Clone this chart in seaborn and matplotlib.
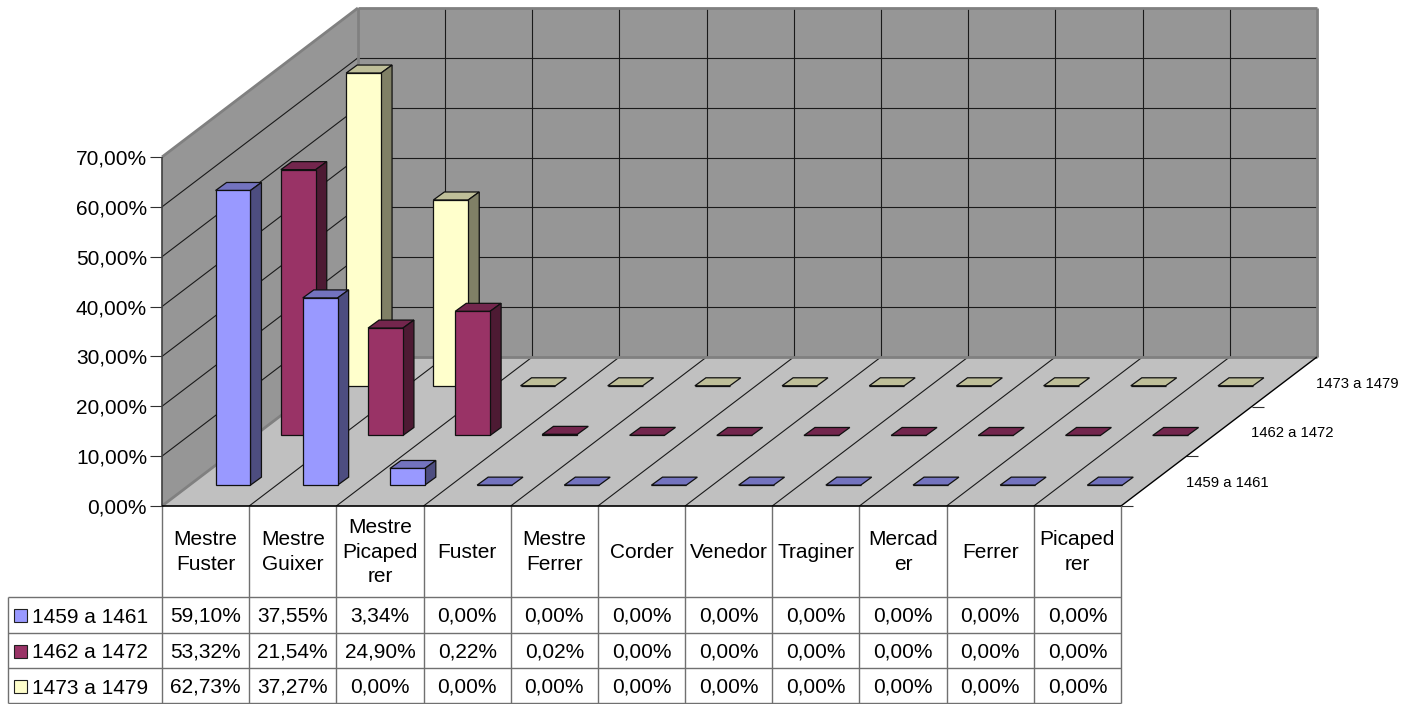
import matplotlib
matplotlib.use("Agg")
import matplotlib.pyplot as plt
from matplotlib.patches import Polygon, Rectangle
import pandas as pd
import seaborn as sns

categories = ["Mestre\nFuster", "Mestre\nGuixer", "Mestre\nPicaped\nrer", "Fuster", "Mestre\nFerrer",
              "Corder", "Venedor", "Traginer", "Mercad\ner", "Ferrer", "Picaped\nrer"]
series_names = ["1459 a 1461", "1462 a 1472", "1473 a 1479"]
values_1459 = [59.10, 37.55, 3.34, 0, 0, 0, 0, 0, 0, 0, 0]
values_1462 = [53.32, 21.54, 24.90, 0.22, 0.02, 0, 0, 0, 0, 0, 0]
values_1473 = [62.73, 37.27, 0, 0, 0, 0, 0, 0, 0, 0, 0]
value_ticks = [0, 10, 20, 30, 40, 50, 60, 70]
colors = ["#9999FF", "#993366", "#FFFFCC"]
all_values = [values_1459, values_1462, values_1473]

W, H = 1422, 704
X0, Y0 = 162, 506          # front-left corner of the floor
FLOOR_W = 959              # width of the 11 categories
DX, DY = 65.3, 49.67       # screen shift of one series row
PLOT_H = 349               # pixels for 70 %
CW = FLOOR_W / len(categories)
NS = len(series_names)
Z_FRONT = 0.42             # depth of bar's front within a row
BAR_W = 0.40
SIDE_X, SIDE_Y = 11, 8     # bar depth on screen
PX_PER_PCT = PLOT_H / 70
WALL, FLOOR, EDGE, GRIDC = "#969696", "#C0C0C0", "#808080", "#1a1a1a"
TABLE_LINE = "#707070"
FS = 15

sns.set_theme(style="white")
plt.rcParams["font.family"] = ["Liberation Sans", "DejaVu Sans"]

fig = plt.figure(figsize=(W / 100, H / 100), dpi=100, facecolor="white")
bg = fig.add_axes([0, 0, 1, 1], zorder=0)
bg.set_xlim(0, W)
bg.set_ylim(H, 0)
bg.axis("off")


def proj(x, z, v=0):
    return (X0 + CW * x + DX * z, Y0 - DY * z - PX_PER_PCT * v)


def seg(a, b, color=GRIDC, lw=0.8, z=2):
    bg.plot([a[0], b[0]], [a[1], b[1]], color=color, lw=lw, zorder=z, solid_capstyle="butt")


nc = len(categories)
bg.add_patch(Polygon([proj(0, NS), proj(nc, NS), proj(nc, NS, 70), proj(0, NS, 70)], fc=WALL, ec="none", zorder=1))
bg.add_patch(Polygon([proj(0, 0), proj(0, NS), proj(0, NS, 70), proj(0, 0, 70)], fc=WALL, ec="none", zorder=1))
bg.add_patch(Polygon([proj(0, 0), proj(nc, 0), proj(nc, NS), proj(0, NS)], fc=FLOOR, ec="none", zorder=1))

# gridlines
for t in value_ticks[1:-1]:
    seg(proj(0, 0, t), proj(0, NS, t))
    seg(proj(0, NS, t), proj(nc, NS, t))
for i in range(1, nc):
    seg(proj(i, NS), proj(i, NS, 70))
    seg(proj(i, 0), proj(i, NS))
# wall outlines
for a, b in [(proj(0, 0, 70), proj(0, NS, 70)), (proj(0, NS, 70), proj(nc, NS, 70)),
             (proj(nc, NS, 70), proj(nc, NS)), (proj(0, NS, 70), proj(0, NS)),
             (proj(0, NS), proj(nc, NS)), (proj(0, 0), proj(0, NS))]:
    seg(a, b, color=EDGE, lw=2.0, z=2.5)
seg(proj(0, 0), proj(0, 0, 70), color="#404040", lw=1.2, z=2.5)
seg(proj(nc, 0), proj(nc, NS), color="black", lw=1.0, z=2.5)
seg(proj(0, 0), proj(nc, 0), color="black", lw=1.2, z=2.5)

# value axis
for t in value_ticks:
    x, y = proj(0, 0, t)
    seg((x - 12, y), (x, y), color="#303030", lw=0.8)
    bg.text(x - 15, y, f"{t:.2f}%".replace(".", ","), ha="right", va="center_baseline", fontsize=FS, color="black")

# series axis
for k, name in enumerate(series_names):
    x, y = proj(nc, k)
    seg((x, y), (x + 12, y), color="#303030", lw=0.8)
    xm, ym = proj(nc, k + 0.5)
    bg.text(xm + 32, ym + 0.5, name, ha="left", va="center_baseline", fontsize=10.7, color="black")

# bars, one transparent axes for each row, back to front
for k in range(NS - 1, -1, -1):
    left, bottom = proj(0, k + Z_FRONT)
    ax = fig.add_axes([left / W, 1 - bottom / H, FLOOR_W / W, PLOT_H / H], zorder=NS - k)
    df = pd.DataFrame({"cat": categories, "val": all_values[k]})
    sns.barplot(data=df, x="cat", y="val", ax=ax, color=colors[k], saturation=1, width=BAR_W,
                edgecolor="#101010", linewidth=0.9, legend=False)
    ax.set_xlim(-0.5, nc - 0.5)
    ax.set_ylim(0, 70)
    ax.axis("off")
    rgb = sns.desaturate(colors[k], 1)
    top_c = tuple(c * 0.75 for c in rgb)
    side_c = tuple(c * 0.5 for c in rgb)
    sx, sy = SIDE_X / CW, SIDE_Y / PX_PER_PCT
    for p in list(ax.patches):
        x0, w, h = p.get_x(), p.get_width(), p.get_height()
        p.set_clip_on(False)
        p.set_zorder(3)
        ax.add_patch(Polygon([(x0, h), (x0 + w, h), (x0 + w + sx, h + sy), (x0 + sx, h + sy)],
                             fc=top_c, ec="#101010", lw=0.9, clip_on=False, zorder=2))
        if h > 0.5:
            ax.add_patch(Polygon([(x0 + w, 0), (x0 + w + sx, sy), (x0 + w + sx, h + sy), (x0 + w, h)],
                                 fc=side_c, ec="#101010", lw=0.9, clip_on=False, zorder=2))

# data table
row_y = [597, 633, 668, 703]
x_lines = [X0 + CW * i for i in range(nc + 1)]
for x in x_lines:
    seg((x, Y0), (x, row_y[-1]), color=TABLE_LINE, lw=1.0)
for y in row_y:
    seg((8, y), (x_lines[-1], y), color=TABLE_LINE, lw=1.0)
seg((8, row_y[0]), (8, row_y[-1]), color=TABLE_LINE, lw=1.0)

for i, cat in enumerate(categories):
    bg.text(X0 + CW * (i + 0.5), (Y0 + row_y[0]) / 2 + 0.5, cat, ha="center", va="center", fontsize=FS,
            linespacing=1.35, color="black")

for k, name in enumerate(series_names):
    yc = (row_y[k] + row_y[k + 1]) / 2
    bg.add_patch(Rectangle((13.5, yc - 6), 13, 13, fc=colors[k], ec="#202020", lw=0.8, zorder=3))
    bg.text(32, yc + 2.5, name, ha="left", va="center", fontsize=FS, color="black")
    for i, v in enumerate(all_values[k]):
        bg.text(X0 + CW * (i + 0.5), yc + 1.5, f"{v:.2f}%".replace(".", ","), ha="center", va="center",
                fontsize=FS, color="black")

fig.savefig("out.png", dpi=100, facecolor="white")
